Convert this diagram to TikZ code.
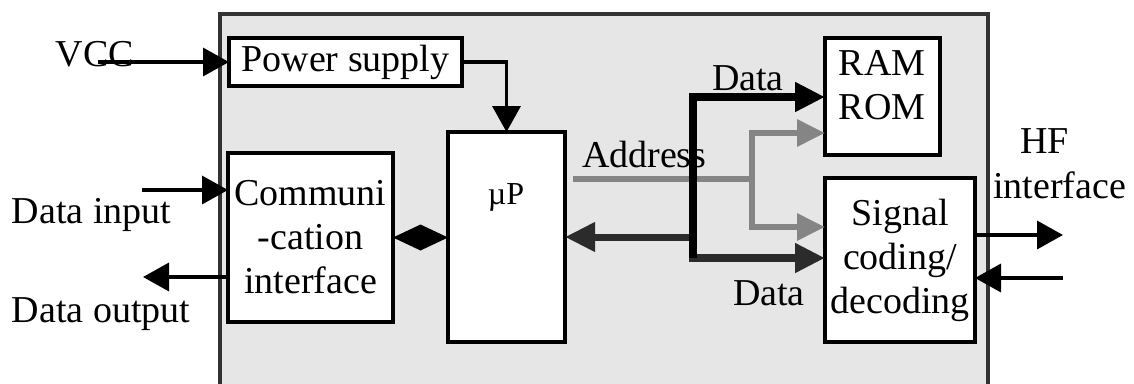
\documentclass[tikz,border=0pt]{standalone}
\usepackage{fontspec}
\setmainfont{Liberation Serif}
\usetikzlibrary{arrows.meta,calc}
\definecolor{bg}{HTML}{E6E6E6}
\definecolor{addrc}{HTML}{858585}
\definecolor{darkc}{HTML}{2B2B2B}
\definecolor{framec}{HTML}{333333}
\begin{document}
\begin{tikzpicture}[x=1pt,y=-1pt,
  every node/.style={font=\fontsize{38}{44}\selectfont, inner sep=0pt, outer sep=0pt},
  box/.style={draw=black, fill=white, line width=3.5pt, anchor=north west, align=center},
  thinarrow/.style={line width=3.5pt, -{Triangle[length=26pt,width=28pt]}},
  bus/.style={line width=8pt, -{Triangle[length=30pt,width=28pt]}},
  addrbus/.style={line width=6pt, draw=addrc},
  lbl/.style={anchor=base west}]
\useasboundingbox (0,0) rectangle (1134,383);
\clip (0,0) rectangle (1134,383);
% outer chip frame
\node[draw=framec, fill=bg, line width=3.5pt, anchor=north west,
      minimum width=768pt, minimum height=390pt] (chip) at (220,14) {};
% blocks
\node[box, minimum width=233pt, minimum height=48pt] (ps) at (229,38) {Power supply};
\node[box, minimum width=117pt, minimum height=210pt] (up) at (448,132) {};
\node[box, minimum width=165pt, minimum height=169pt] (comm) at (228,153) {Communi\\-cation\\interface};
\node[box, minimum width=115pt, minimum height=117pt] (ram) at (825,38) {};
\node[box, minimum width=150pt, minimum height=164pt] (sig) at (825,178) {Signal\\coding/\\decoding};
\node[align=center] (ramtxt) at (882,85) {RAM\\ROM};
\node[font=\fontsize{32}{36}\selectfont] (uptxt) at (506,197) {µP};
% labels
\node[anchor=base] (vcc) at (95,66) {VCC};
\node[lbl] (dinl) at (12,223) {Data input};
\node[lbl] (doutl) at (12,322) {Data output};
\node[lbl] (addrl) at (582,167) {Address};
\node[lbl] (datal1) at (712,90) {Data};
\node[lbl] (datal2) at (733,305) {Data};
\node[lbl] (hfl) at (1020,153) {HF};
\node[lbl] (hfl2) at (993,198) {interface};
% connector ends
\coordinate (vccs) at (98,62);
\coordinate (din) at (142,190);
\coordinate (dout) at (143,277);
\coordinate (hfo) at (1063,235);
\coordinate (hfi) at (1063,278);
% thin arrows
\draw[thinarrow] (vccs) -- (ps.west);
\draw[thinarrow] (ps.east) -| (up.north);
\draw[thinarrow] (din) -- (comm.west |- din);
\draw[thinarrow] (comm.west |- dout) -- (dout);
\draw[thinarrow] (sig.east |- hfo) -- (hfo);
\draw[thinarrow] (hfi) -- (sig.east |- hfi);
% bidirectional diamond link between communication interface and uP
\fill (comm.east) -- ($(comm.east)!0.5!(up.west |- comm.east)+(0,-13)$)
  -- (up.west |- comm.east) -- ($(comm.east)!0.5!(up.west |- comm.east)+(0,13)$) -- cycle;
% address bus
\coordinate (aj) at (752,179);
\coordinate (at) at (752,133);
\coordinate (ab) at (752,227);
\draw[addrbus] ($(up.east |- aj)+(8,0)$) -- (aj);
\draw[addrbus, -{Triangle[length=28pt,width=26pt]}] (aj) -- (at) -- (at -| ram.west);
\draw[addrbus, -{Triangle[length=28pt,width=26pt]}] (aj) -- (ab) -- (ab -| sig.west);
% data bus
\coordinate (dt) at (693,97);
\coordinate (db) at (693,258);
\coordinate (dm) at (693,237);
\draw[bus, draw=darkc] (dt) -- (db) -- (db -| sig.west);
\draw[bus, draw=darkc, line width=7pt] (dm) -- (dm -| up.east);
\draw[bus, draw=black] (db) -- (dt) -- (dt -| ram.west);
\end{tikzpicture}
\end{document}
